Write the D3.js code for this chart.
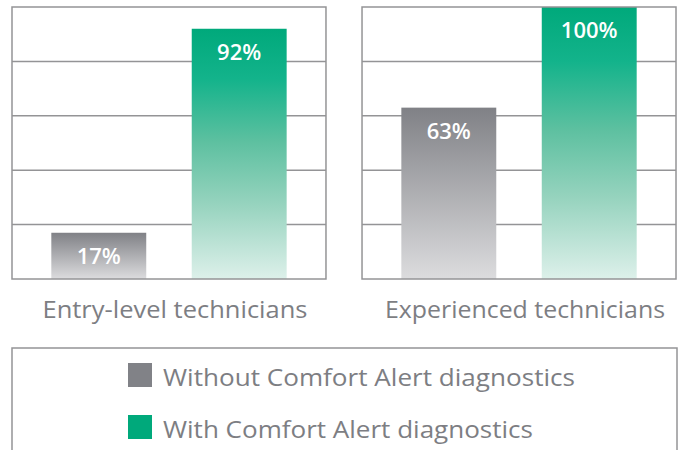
<!DOCTYPE html>
<html>
<head>
<meta charset="utf-8">
<script src="https://cdn.jsdelivr.net/npm/d3@7"></script>
<style>
  body { margin: 0; background: #fff; }
  svg { display: block; font-family: "Open Sans", "Noto Sans", sans-serif; }
</style>
</head>
<body>
<svg id="chart" width="684" height="450"></svg>
<script>
// chart values
var groups = ['Entry-level technicians', 'Experienced technicians'];
var seriesNames = ['Without Comfort Alert diagnostics', 'With Comfort Alert diagnostics'];
var withoutValues = [17, 63];
var withValues = [92, 100];
var gridTicks = [0, 20, 40, 60, 80, 100];

var svg = d3.select('#chart');
var frameColor = '#949496';
var textColor = '#7d7e83';

// gradients, one per series, stretched over each bar
var defs = svg.append('defs');
var gradStops = [
	[[0, '#808186'], [1, '#dcdcde']],
	[[0, '#00a97b'], [0.2, '#13b38b'], [0.45, '#5dc0a0'], [0.7, '#96d3be'], [1, '#ddf0ea']]
];
gradStops.forEach(function(stops, i) {
	var g = defs.append('linearGradient')
		.attr('id', 'grad' + i)
		.attr('x1', 0).attr('y1', 0).attr('x2', 0).attr('y2', 1);
	g.selectAll('stop').data(stops).enter().append('stop')
		.attr('offset', d => d[0])
		.attr('stop-color', d => d[1]);
});

var x0 = d3.scaleBand().domain(groups).range([12, 676]).paddingInner(0.103);
var x1 = d3.scaleBand().domain(seriesNames).range([0, x0.bandwidth()])
	.paddingInner(0.324).paddingOuter(0.28);
var y = d3.scaleLinear().domain([0, 100]).range([279, 7]);

var panelData = groups.map(function(g, i) {
	return { group: g, values: [withoutValues[i], withValues[i]] };
});

var panels = svg.selectAll('.panel')
	.data(panelData)
	.enter().append('g')
	.attr('class', 'panel')
	.attr('transform', d => 'translate(' + x0(d.group) + ',0)');

// grid lines
panels.selectAll('.grid')
	.data(gridTicks.slice(1, -1))
	.enter().append('line')
	.attr('class', 'grid')
	.attr('x1', 0).attr('x2', x0.bandwidth())
	.attr('y1', d => y(d)).attr('y2', d => y(d))
	.attr('stroke', frameColor)
	.attr('stroke-width', 1.5);

// bars
panels.selectAll('.bar')
	.data(d => d.values.map((v, j) => ({ series: seriesNames[j], value: v, idx: j })))
	.enter().append('rect')
	.attr('class', 'bar')
	.attr('x', d => x1(d.series))
	.attr('width', x1.bandwidth())
	.attr('y', d => y(d.value))
	.attr('height', d => y(0) - y(d.value))
	.attr('fill', d => 'url(#grad' + d.idx + ')');

// frame on top
panels.append('rect')
	.attr('x', 0).attr('y', y(100))
	.attr('width', x0.bandwidth())
	.attr('height', y(0) - y(100))
	.attr('fill', 'none')
	.attr('stroke', frameColor)
	.attr('stroke-width', 1.5);

// value labels
panels.selectAll('.val')
	.data(d => d.values.map((v, j) => ({ series: seriesNames[j], value: v })))
	.enter().append('text')
	.attr('class', 'val')
	.attr('x', d => x1(d.series) + x1.bandwidth() / 2)
	.attr('y', d => y(d.value) + 31)
	.attr('text-anchor', 'middle')
	.attr('fill', '#fff')
	.attr('font-size', 22)
	.attr('font-weight', 600)
	.text(d => d.value + '%');

// group labels
var labelWidths = [265, 280];
panels.append('text')
	.attr('x', x0.bandwidth() / 2 + 6)
	.attr('y', 318)
	.attr('text-anchor', 'middle')
	.attr('fill', textColor)
	.attr('font-size', 24)
	.attr('textLength', (d, i) => labelWidths[i])
	.attr('lengthAdjust', 'spacingAndGlyphs')
	.text(d => d.group);

// legend
svg.append('rect')
	.attr('x', 12).attr('y', 348)
	.attr('width', 665).attr('height', 130)
	.attr('fill', 'none')
	.attr('stroke', frameColor)
	.attr('stroke-width', 1.5);

var legendColors = ['#818287', '#00a97b'];
var legendWidths = [412, 370];
var legend = svg.selectAll('.legend')
	.data(seriesNames)
	.enter().append('g')
	.attr('class', 'legend')
	.attr('transform', (d, i) => 'translate(128,' + (363 + i * 52) + ')');

legend.append('rect')
	.attr('width', 24).attr('height', 24)
	.attr('fill', (d, i) => legendColors[i]);

legend.append('text')
	.attr('x', 35).attr('y', 23)
	.attr('fill', textColor)
	.attr('font-size', 24)
	.attr('textLength', (d, i) => legendWidths[i])
	.attr('lengthAdjust', 'spacingAndGlyphs')
	.text(d => d);
</script>
</body>
</html>
